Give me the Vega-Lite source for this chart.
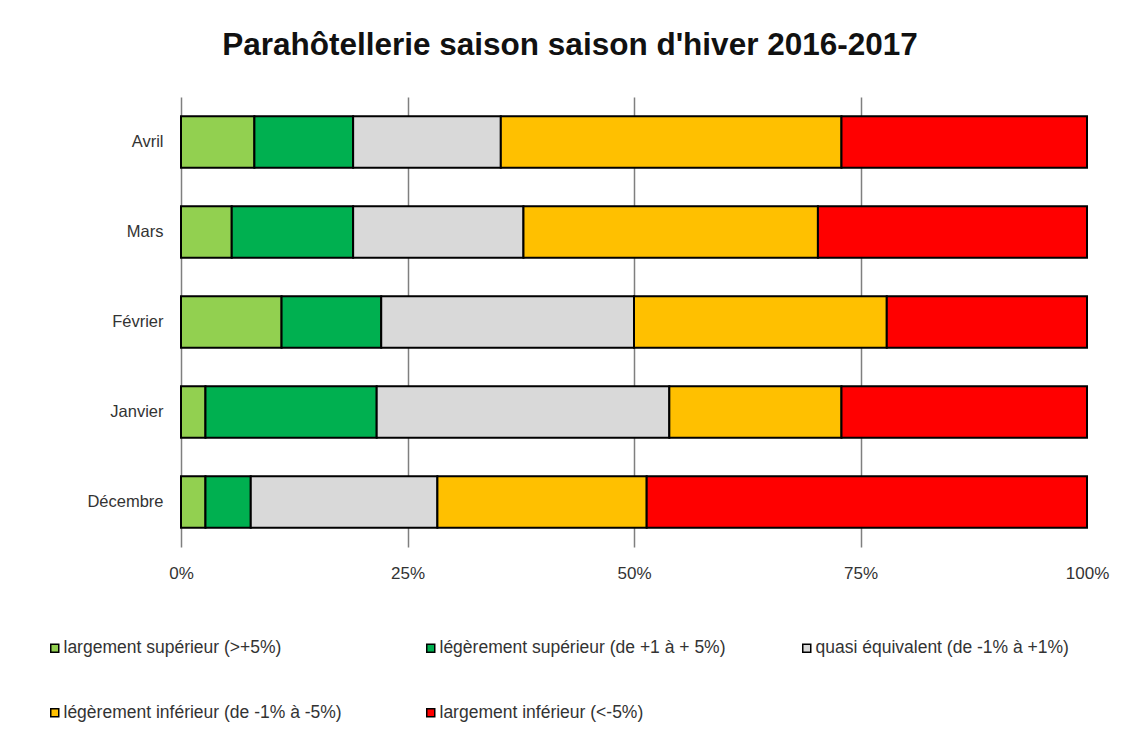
{
  "$schema": "https://vega.github.io/schema/vega-lite/v6.json",
  "autosize": {"type": "none"},
  "width": 906,
  "height": 450,
  "padding": {"left": 181, "top": 97, "right": 48, "bottom": 204},
  "background": "white",
  "title": {
    "text": "Parahôtellerie saison saison d'hiver 2016-2017",
    "font": "Liberation Sans",
    "fontSize": 31.5,
    "fontWeight": "bold",
    "color": "#111111",
    "anchor": "middle",
    "dx": -64,
    "offset": 36
  },
  "data": {
    "values": [
      {"mois": "Avril", "cat": "largement supérieur (>+5%)", "ordre": 1, "part": 0.081},
      {"mois": "Avril", "cat": "légèrement supérieur (de +1 à + 5%)", "ordre": 2, "part": 0.109},
      {"mois": "Avril", "cat": "quasi équivalent (de -1% à +1%)", "ordre": 3, "part": 0.163},
      {"mois": "Avril", "cat": "légèrement inférieur (de -1% à -5%)", "ordre": 4, "part": 0.376},
      {"mois": "Avril", "cat": "largement inférieur (<-5%)", "ordre": 5, "part": 0.271},
      {"mois": "Mars", "cat": "largement supérieur (>+5%)", "ordre": 1, "part": 0.056},
      {"mois": "Mars", "cat": "légèrement supérieur (de +1 à + 5%)", "ordre": 2, "part": 0.134},
      {"mois": "Mars", "cat": "quasi équivalent (de -1% à +1%)", "ordre": 3, "part": 0.188},
      {"mois": "Mars", "cat": "légèrement inférieur (de -1% à -5%)", "ordre": 4, "part": 0.325},
      {"mois": "Mars", "cat": "largement inférieur (<-5%)", "ordre": 5, "part": 0.297},
      {"mois": "Février", "cat": "largement supérieur (>+5%)", "ordre": 1, "part": 0.111},
      {"mois": "Février", "cat": "légèrement supérieur (de +1 à + 5%)", "ordre": 2, "part": 0.110},
      {"mois": "Février", "cat": "quasi équivalent (de -1% à +1%)", "ordre": 3, "part": 0.279},
      {"mois": "Février", "cat": "légèrement inférieur (de -1% à -5%)", "ordre": 4, "part": 0.279},
      {"mois": "Février", "cat": "largement inférieur (<-5%)", "ordre": 5, "part": 0.221},
      {"mois": "Janvier", "cat": "largement supérieur (>+5%)", "ordre": 1, "part": 0.027},
      {"mois": "Janvier", "cat": "légèrement supérieur (de +1 à + 5%)", "ordre": 2, "part": 0.189},
      {"mois": "Janvier", "cat": "quasi équivalent (de -1% à +1%)", "ordre": 3, "part": 0.323},
      {"mois": "Janvier", "cat": "légèrement inférieur (de -1% à -5%)", "ordre": 4, "part": 0.190},
      {"mois": "Janvier", "cat": "largement inférieur (<-5%)", "ordre": 5, "part": 0.271},
      {"mois": "Décembre", "cat": "largement supérieur (>+5%)", "ordre": 1, "part": 0.027},
      {"mois": "Décembre", "cat": "légèrement supérieur (de +1 à + 5%)", "ordre": 2, "part": 0.050},
      {"mois": "Décembre", "cat": "quasi équivalent (de -1% à +1%)", "ordre": 3, "part": 0.206},
      {"mois": "Décembre", "cat": "légèrement inférieur (de -1% à -5%)", "ordre": 4, "part": 0.231},
      {"mois": "Décembre", "cat": "largement inférieur (<-5%)", "ordre": 5, "part": 0.486}
    ]
  },
  "mark": {"type": "bar", "stroke": "#000000", "strokeWidth": 2},
  "encoding": {
    "y": {
      "field": "mois",
      "type": "nominal",
      "sort": ["Avril", "Mars", "Février", "Janvier", "Décembre"],
      "scale": {"paddingInner": 0.43, "paddingOuter": 0.215},
      "axis": {
        "title": null,
        "ticks": false,
        "domain": false,
        "labelFont": "Liberation Sans",
        "labelFontSize": 16.5,
        "labelColor": "#333333",
        "labelPadding": 18
      }
    },
    "x": {
      "field": "part",
      "type": "quantitative",
      "stack": "zero",
      "scale": {"domain": [0, 1], "nice": false},
      "axis": {
        "title": null,
        "values": [0, 0.25, 0.5, 0.75, 1],
        "format": ".0%",
        "ticks": false,
        "domain": false,
        "grid": true,
        "gridColor": {"condition": {"test": "datum.value >= 1", "value": "transparent"}, "value": "#7f7f7f"},
        "gridWidth": 1.5,
        "labelFont": "Liberation Sans",
        "labelFontSize": 17,
        "labelColor": "#333333",
        "labelPadding": 18,
        "labelFlush": false
      }
    },
    "order": {"field": "ordre", "type": "quantitative"},
    "color": {
      "field": "cat",
      "type": "nominal",
      "scale": {
        "domain": [
          "largement supérieur (>+5%)",
          "légèrement supérieur (de +1 à + 5%)",
          "quasi équivalent (de -1% à +1%)",
          "légèrement inférieur (de -1% à -5%)",
          "largement inférieur (<-5%)"
        ],
        "range": ["#92D050", "#00B050", "#D9D9D9", "#FFC000", "#FF0000"]
      },
      "legend": {
        "title": null,
        "orient": "none",
        "legendX": -135,
        "legendY": 542,
        "direction": "horizontal",
        "columns": 3,
        "gridAlign": "all",
        "columnPadding": 72,
        "rowPadding": 46,
        "symbolType": "square",
        "symbolSize": 64,
        "symbolStrokeColor": "#000000",
        "symbolStrokeWidth": 1.5,
        "labelFont": "Liberation Sans",
        "labelFontSize": 17.5,
        "labelColor": "#333333",
        "labelOffset": 0,
        "labelLimit": 500
      }
    }
  },
  "config": {"view": {"stroke": null}}
}
